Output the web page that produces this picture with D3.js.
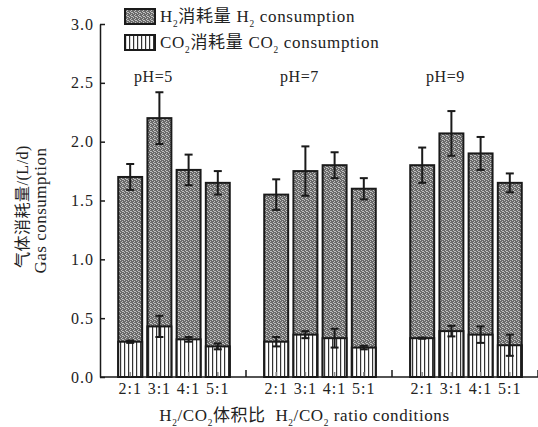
<!DOCTYPE html>
<html>
<head>
<meta charset="utf-8">
<script src="https://cdn.jsdelivr.net/npm/d3@7"></script>
<style>
  body { margin: 0; background: #fff; }
  svg { display: block; }
  text { font-family: "Liberation Serif", "Noto Sans CJK SC", serif; fill: #222; }
</style>
</head>
<body>
<div id="chart"></div>
<script>
const phGroups = ["pH=5", "pH=7", "pH=9"];
const ratios = ["2:1", "3:1", "4:1", "5:1"];
const h2Values = [[1.70, 2.20, 1.76, 1.65], [1.55, 1.75, 1.80, 1.60], [1.80, 2.07, 1.90, 1.65]];
const h2Errors = [[0.11, 0.22, 0.13, 0.10], [0.13, 0.21, 0.11, 0.09], [0.15, 0.19, 0.14, 0.08]];
const co2Values = [[0.30, 0.43, 0.32, 0.26], [0.30, 0.36, 0.33, 0.25], [0.33, 0.39, 0.36, 0.27]];
const co2Errors = [[0.01, 0.09, 0.02, 0.025], [0.04, 0.03, 0.08, 0.015], [0.005, 0.045, 0.07, 0.09]];
const yTicks = [0, 0.5, 1.0, 1.5, 2.0, 2.5, 3.0];

const width = 538, height = 427;
const margin = { top: 24, right: -1, bottom: 50, left: 101 };

const svg = d3.select("#chart").append("svg")
    .attr("width", width)
    .attr("height", height);

// patterns
const defs = svg.append("defs");
const dots = defs.append("pattern")
    .attr("id", "dots")
    .attr("patternUnits", "userSpaceOnUse")
    .attr("width", 4).attr("height", 4);
dots.append("rect").attr("width", 4).attr("height", 4).attr("fill", "#6a6a6a");
[[0, 0], [2, 1], [1, 2], [3, 3], [2, 3]].forEach(([px, py]) => {
  dots.append("rect").attr("x", px).attr("y", py).attr("width", 1).attr("height", 1).attr("fill", "#c0c0c0");
});

const hatch = defs.append("pattern")
    .attr("id", "hatch")
    .attr("patternUnits", "userSpaceOnUse")
    .attr("width", 4).attr("height", 4);
hatch.append("rect").attr("width", 4).attr("height", 4).attr("fill", "#fff");
hatch.append("rect").attr("x", 0).attr("width", 1.2).attr("height", 4).attr("fill", "#333");

// scales
const x0 = d3.scaleBand()
    .domain(phGroups)
    .range([margin.left, width - margin.right])
    .padding(0);
const x1 = d3.scalePoint()
    .domain(ratios)
    .range([0, x0.bandwidth()])
    .padding(1);
const barW = x1.step() * 0.82;

const y = d3.scaleLinear()
    .domain([0, 3])
    .range([height - margin.bottom, margin.top]);

const rows = [];
phGroups.forEach((g, gi) => {
  ratios.forEach((r, ri) => {
    rows.push({
      group: g, ratio: r,
      cx: x0(g) + x1(r),
      h2: h2Values[gi][ri], h2e: h2Errors[gi][ri],
      co2: co2Values[gi][ri], co2e: co2Errors[gi][ri]
    });
  });
});

const plot = svg.append("g");

// H2 bars
plot.selectAll(".bar.h2")
    .data(rows)
    .enter()
    .append("rect")
    .attr("class", "bar h2")
    .attr("x", d => d.cx - barW / 2)
    .attr("y", d => y(d.h2))
    .attr("width", barW)
    .attr("height", d => y(0) - y(d.h2))
    .attr("fill", "url(#dots)")
    .attr("stroke", "#1a1a1a")
    .attr("stroke-width", 2);

// CO2 bars
plot.selectAll(".bar.co2")
    .data(rows)
    .enter()
    .append("rect")
    .attr("class", "bar co2")
    .attr("x", d => d.cx - barW / 2)
    .attr("y", d => y(d.co2))
    .attr("width", barW)
    .attr("height", d => y(0) - y(d.co2))
    .attr("fill", "url(#hatch)")
    .attr("stroke", "#1a1a1a")
    .attr("stroke-width", 2);

// error bars
function errorBars(cls, val, err) {
  const g = plot.selectAll("." + cls)
      .data(rows)
      .enter()
      .append("g")
      .attr("class", cls)
      .attr("stroke", "#1a1a1a")
      .attr("stroke-width", 2);
  g.append("line")
      .attr("x1", d => d.cx).attr("x2", d => d.cx)
      .attr("y1", d => y(d[val] - d[err])).attr("y2", d => y(d[val] + d[err]));
  g.append("line")
      .attr("x1", d => d.cx - 4).attr("x2", d => d.cx + 4)
      .attr("y1", d => y(d[val] + d[err])).attr("y2", d => y(d[val] + d[err]));
  g.append("line")
      .attr("x1", d => d.cx - 4).attr("x2", d => d.cx + 4)
      .attr("y1", d => y(d[val] - d[err])).attr("y2", d => y(d[val] - d[err]));
}
errorBars("err-h2", "h2", "h2e");
errorBars("err-co2", "co2", "co2e");

// small ticks at bar centers
plot.selectAll(".btick")
    .data(rows)
    .enter()
    .append("line")
    .attr("x1", d => d.cx).attr("x2", d => d.cx)
    .attr("y1", y(0)).attr("y2", y(0) - 5)
    .attr("stroke", "#888")
    .attr("stroke-width", 1.5);

// x axis line and group separators
svg.append("line")
    .attr("x1", margin.left - 1).attr("x2", width)
    .attr("y1", y(0)).attr("y2", y(0))
    .attr("stroke", "#1a1a1a").attr("stroke-width", 1.5);
svg.selectAll(".gtick")
    .data(phGroups)
    .enter()
    .append("line")
    .attr("x1", d => x0(d) + x0.bandwidth() - 1).attr("x2", d => x0(d) + x0.bandwidth() - 1)
    .attr("y1", y(0)).attr("y2", y(0) - 7)
    .attr("stroke", "#1a1a1a").attr("stroke-width", 1.5);

// x tick labels
svg.selectAll(".xlab")
    .data(rows)
    .enter()
    .append("text")
    .attr("x", d => d.cx)
    .attr("y", y(0) + 17)
    .attr("text-anchor", "middle")
    .attr("font-size", 16)
    .attr("letter-spacing", 1)
    .text(d => d.ratio);

// pH labels
svg.selectAll(".phlab")
    .data(phGroups)
    .enter()
    .append("text")
    .attr("x", d => x0(d) + x1("3:1") - 6)
    .attr("y", 82)
    .attr("text-anchor", "middle")
    .attr("font-size", 16)
    .attr("letter-spacing", 0.5)
    .text(d => d);

// y axis
const yAxis = d3.axisLeft(y)
    .tickValues(yTicks)
    .tickFormat(d3.format(".1f"))
    .tickSizeInner(-5)
    .tickSizeOuter(0)
    .tickPadding(6);
const yg = svg.append("g")
    .attr("transform", `translate(${margin.left - 1},0)`)
    .call(yAxis);
yg.select(".domain").attr("stroke", "#1a1a1a").attr("stroke-width", 1.5);
yg.selectAll(".tick line").attr("stroke", "#1a1a1a").attr("stroke-width", 1.5);
yg.selectAll(".tick text")
    .attr("font-size", 16)
    .attr("letter-spacing", 1)
    .attr("fill", "#222")
    .style("font-family", "'Liberation Serif', serif");

// y title
const yTitle = svg.append("g")
    .attr("transform", `translate(0,${(margin.top + y(0)) / 2 + 6}) rotate(-90)`);
yTitle.append("text")
    .attr("x", 0).attr("y", 28)
    .attr("text-anchor", "middle")
    .attr("font-size", 16)
    .attr("letter-spacing", 0.5)
    .text("气体消耗量/(L/d)");
yTitle.append("text")
    .attr("x", -4).attr("y", 46)
    .attr("text-anchor", "middle")
    .attr("font-size", 17)
    .attr("letter-spacing", 0.5)
    .text("Gas consumption");

// helper for text with subscripts: parts = [[text, isSub], ...]
function richText(sel, parts) {
  parts.forEach(([t, sub]) => {
    const ts = sel.append("tspan").text(t);
    if (sub) ts.attr("font-size", "0.55em").attr("baseline-shift", "sub");
  });
}

// x title
const xTitle = svg.append("text")
    .attr("x", (margin.left + width) / 2 - 15)
    .attr("y", 421)
    .attr("text-anchor", "middle")
    .attr("font-size", 17)
    .attr("letter-spacing", 0.6)
    .style("white-space", "pre");
richText(xTitle, [["H", 0], ["2", 1], ["/CO", 0], ["2", 1], ["体积比  H", 0], ["2", 1], ["/CO", 0], ["2", 1], [" ratio conditions", 0]]);

// legend
const legendItems = [
  { fill: "url(#dots)", parts: [["H", 0], ["2", 1], ["消耗量 H", 0], ["2", 1], [" consumption", 0]] },
  { fill: "url(#hatch)", parts: [["CO", 0], ["2", 1], ["消耗量 CO", 0], ["2", 1], [" consumption", 0]] }
];
const legend = svg.append("g").attr("transform", "translate(125,9)");
legendItems.forEach((item, i) => {
  const row = legend.append("g").attr("transform", `translate(0,${i * 26})`);
  row.append("rect")
      .attr("width", 30).attr("height", 15)
      .attr("fill", item.fill)
      .attr("stroke", "#1a1a1a").attr("stroke-width", 2);
  const t = row.append("text")
      .attr("x", 35).attr("y", 13)
      .attr("font-size", 17)
      .attr("letter-spacing", 0.7);
  richText(t, item.parts);
});
</script>
</body>
</html>
